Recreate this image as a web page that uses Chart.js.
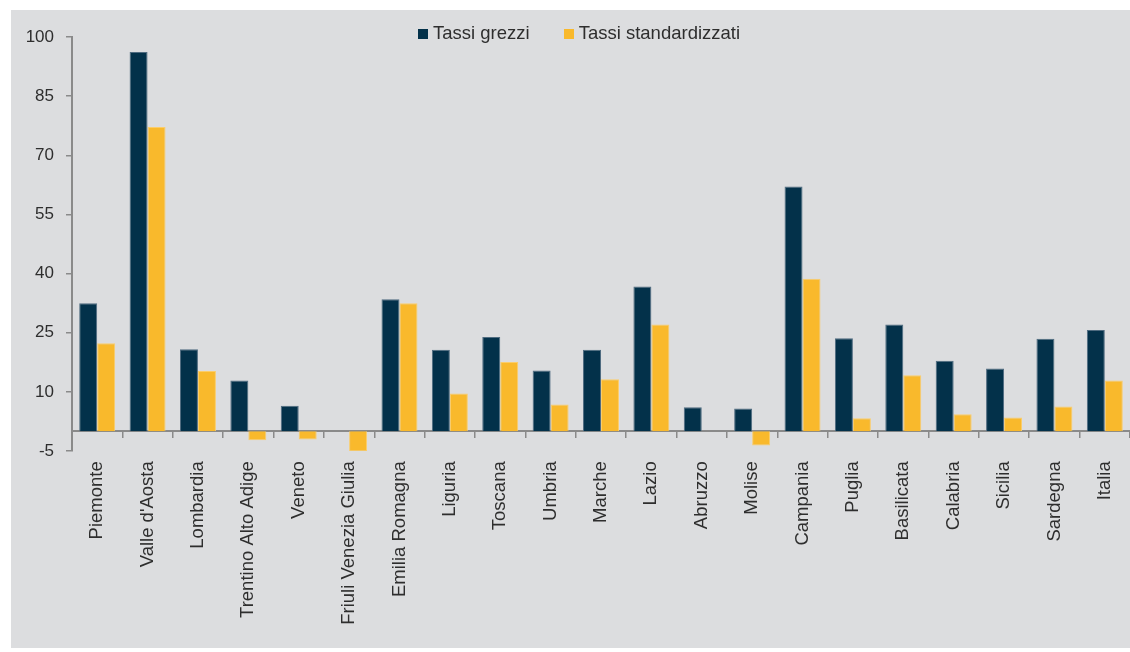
<!DOCTYPE html>
<html lang="it">
<head>
<meta charset="utf-8">
<title>Tassi grezzi e standardizzati per regione</title>
<script src="https://cdn.jsdelivr.net/npm/chart.js@4.4.1/dist/chart.umd.min.js"></script>
<style>
  body { margin: 0; background: #fff; width: 1130px; height: 652px; overflow: hidden; }
  #panel { position: absolute; left: 11px; top: 10px; width: 1119px; height: 638px; background: #dcdddf; }
  #chart { position: absolute; left: 0; top: 0; }
  #legend { position: absolute; left: 407px; top: 12px; display: flex; font: 18.5px "Liberation Sans", Arial, sans-serif; color: #2e2e2e; }
  #legend .item { display: flex; align-items: center; margin-right: 34px; }
  #legend .box { width: 10px; height: 10px; margin-right: 5px; margin-top: 2px; }
</style>
</head>
<body>
<div id="panel">
  <canvas id="chart" width="1119" height="638"></canvas>
  <div id="legend"></div>
</div>
<script>
// ===== DATI =====
const categories = [
  "Piemonte", "Valle d'Aosta", "Lombardia", "Trentino Alto Adige", "Veneto",
  "Friuli Venezia Giulia", "Emilia Romagna", "Liguria", "Toscana", "Umbria",
  "Marche", "Lazio", "Abruzzo", "Molise", "Campania", "Puglia", "Basilicata",
  "Calabria", "Sicilia", "Sardegna", "Italia"
];
const tassiGrezzi = [32.5, 96.2, 20.8, 12.9, 6.5, 0, 33.5, 20.7, 23.9, 15.4, 20.7, 36.7, 6.1, 5.8, 62.1, 23.6, 27.1, 17.9, 15.9, 23.5, 25.7];
const tassiStandardizzati = [22.3, 77.2, 15.3, -2.3, -2.1, -5.1, 32.5, 9.6, 17.6, 6.8, 13.2, 27.1, 0, -3.6, 38.7, 3.3, 14.2, 4.3, 3.5, 6.3, 12.9];
const seriesLabels = ["Tassi grezzi", "Tassi standardizzati"];
const yMin = -5, yMax = 100, yStep = 15;

const colors = { grezzi: "#03314a", std: "#f9b92c" };
const FONT = '"Liberation Sans", Arial, sans-serif';
const AXIS = "#8a8a8a";

const datasets = [
  { label: seriesLabels[0], data: tassiGrezzi, backgroundColor: colors.grezzi, borderColor: "#4f6b80", borderWidth: 1 },
  { label: seriesLabels[1], data: tassiStandardizzati, backgroundColor: colors.std, borderColor: "#fbcd6a", borderWidth: 1 },
];

// legenda in HTML
document.getElementById("legend").innerHTML = datasets.map(d =>
  `<div class="item"><span class="box" style="background:${d.backgroundColor}"></span><span>${d.label}</span></div>`
).join("");

new Chart(document.getElementById("chart"), {
  type: "bar",
  data: { labels: categories, datasets },
  options: {
    responsive: false,
    animation: false,
    devicePixelRatio: 1,
    layout: { padding: { top: 27, bottom: 197, left: 0, right: 0 } },
    datasets: { bar: { categoryPercentage: 0.714, barPercentage: 1 } },
    plugins: { legend: { display: false }, tooltip: { enabled: false } },
    scales: {
      x: {
        position: { y: 0 },
        afterFit: s => { s.paddingLeft = 0; s.paddingRight = 0; },
        grid: { offset: true, drawOnChartArea: false, drawTicks: true, tickLength: 6, color: AXIS, lineWidth: 1.5 },
        border: { display: true, color: AXIS, width: 2 },
        ticks: {
          autoSkip: false, minRotation: 90, maxRotation: 90, padding: 24,
          color: "#2e2e2e", font: { family: FONT, size: 18.5 }
        }
      },
      y: {
        min: yMin, max: yMax,
        afterFit: s => { s.width = 61; s.paddingTop = 0; s.paddingBottom = 0; },
        grid: { drawOnChartArea: false, drawTicks: true, tickLength: 6, color: AXIS, lineWidth: 1.5 },
        border: { display: true, color: AXIS, width: 2 },
        ticks: { stepSize: yStep, padding: 12, color: "#2e2e2e", font: { family: FONT, size: 17 } }
      }
    }
  }
});
</script>
</body>
</html>
